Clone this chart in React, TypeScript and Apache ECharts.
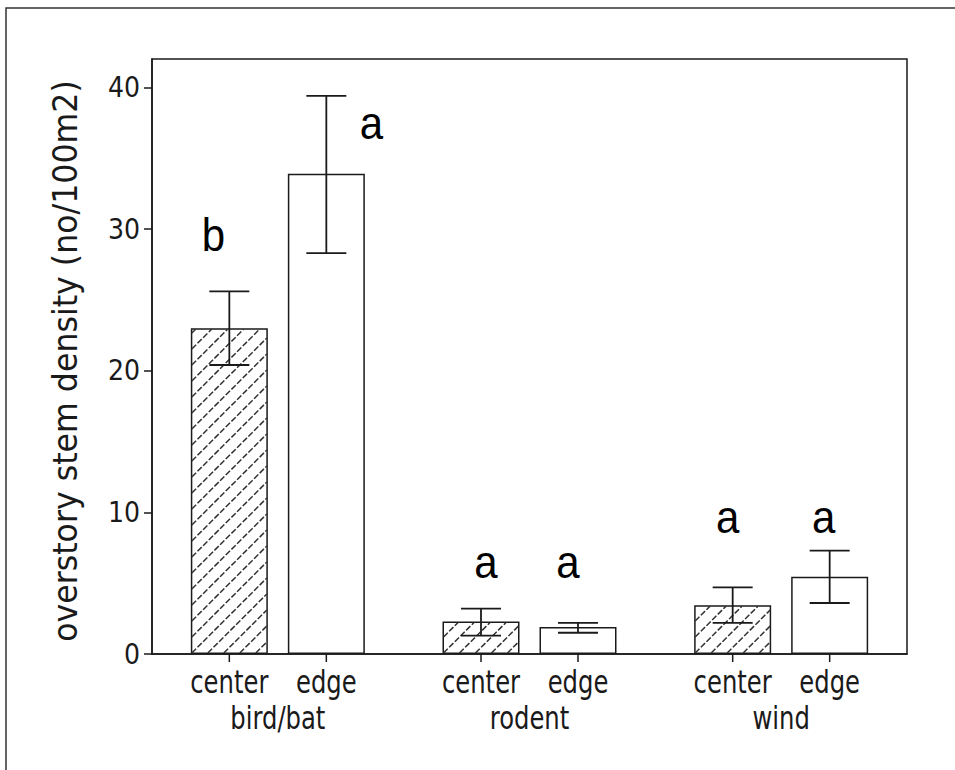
import React, { useEffect, useRef } from "react";
import * as echarts from "echarts";

// ---- data ----
const categories = ["bird/bat", "rodent", "wind"];
const subLabels = ["center", "edge"];
const centerMean = [23.0, 2.3, 3.45];
const edgeMean = [33.9, 1.9, 5.45];
const centerLow = [20.4, 1.3, 2.2];
const centerHigh = [25.6, 3.2, 4.7];
const edgeLow = [28.3, 1.5, 3.6];
const edgeHigh = [39.4, 2.2, 7.3];
const centerLetters = ["b", "a", "a"];
const edgeLetters = ["a", "a", "a"];
const centerLetterY = [29.6, 6.5, 9.7];
const edgeLetterY = [37.5, 6.5, 9.7];
const yTickValues = [0, 10, 20, 30, 40];
const yTitle = "overstory stem density (no/100m2)";

// ---- layout / style (not data) ----
const BAR_W = 77;
const BAR_GAP = 20;
const HALF_STEP = (BAR_W + BAR_GAP) / 2;
const CAP_HALF = 20;
const HATCH_STEP = 16;
const centerLetterDx = [-16, 5, -5];
const edgeLetterDx = [45, -10, -6];
const INK = "#1a1a1a";
const HFONT = "'DejaVu Sans Condensed', 'DejaVu Sans', sans-serif";
const TEXT_STRETCH = 1.18;

export default function App() {
  const ref = useRef<HTMLDivElement>(null);
  useEffect(() => {
    document.body.style.margin = "0";
    if (!ref.current) return;
    const chart = echarts.init(ref.current, undefined, { renderer: "svg" });

    const errData: number[][] = [];
    const letterData: number[][] = [];
    const subData: number[][] = [];
    const hatchData: number[][] = [];
    const groupData: number[][] = [];
    categories.forEach((_, i) => {
      errData.push([i, centerLow[i], centerHigh[i], 0]);
      errData.push([i, edgeLow[i], edgeHigh[i], 1]);
      letterData.push([i, centerLetterY[i], 0]);
      letterData.push([i, edgeLetterY[i], 1]);
      subData.push([i, 0, 0]);
      subData.push([i, 0, 1]);
      hatchData.push([i, centerMean[i]]);
      groupData.push([i, 0]);
    });
    const letterText = (idx: number) => {
      const cat = Math.floor(idx / 2);
      return idx % 2 === 0 ? centerLetters[cat] : edgeLetters[cat];
    };
    const letterDx = (idx: number) => {
      const cat = Math.floor(idx / 2);
      return idx % 2 === 0 ? centerLetterDx[cat] : edgeLetterDx[cat];
    };

    const option: any = {
      animation: false,
      backgroundColor: "#ffffff",
      grid: {
        left: 152,
        right: 48,
        top: 59,
        bottom: 116,
        show: true,
        borderColor: INK,
        borderWidth: 1.5,
        backgroundColor: "transparent",
      },
      xAxis: {
        type: "category",
        data: categories,
        axisTick: { show: false },
        axisLine: { lineStyle: { color: INK, width: 1.5 } },
        axisLabel: { show: false },
        splitLine: { show: false },
      },
      yAxis: {
        type: "value",
        min: 0,
        max: 42,
        interval: 10,
        axisLine: { show: true, lineStyle: { color: INK, width: 1.5 } },
        axisTick: {
          show: true,
          length: 8,
          lineStyle: { color: INK, width: 1.5 },
          customValues: yTickValues,
        },
        axisLabel: {
          color: INK,
          fontSize: 28,
          fontFamily: HFONT,
          margin: 12,
          customValues: yTickValues,
        },
        splitLine: { show: false },
      },
      graphic: [
        {
          type: "rect",
          silent: true,
          z: -1,
          shape: { x: 6, y: 8, width: 1000, height: 800 },
          style: { fill: "none", stroke: "#333", lineWidth: 1.5 },
        },
        {
          type: "text",
          x: 66,
          y: 361,
          rotation: Math.PI / 2,
          scaleX: 0.93,
          style: {
            text: yTitle,
            fill: INK,
            font: "34px 'DejaVu Sans', sans-serif",
            textAlign: "center",
            textVerticalAlign: "middle",
          },
        },
      ],
      series: [
        {
          name: subLabels[0],
          type: "bar",
          data: centerMean,
          barWidth: BAR_W,
          barGap: (BAR_GAP / BAR_W) * 100 + "%",
          itemStyle: { color: "#fff", borderColor: INK, borderWidth: 1.5 },
          z: 2,
        },
        {
          name: subLabels[1],
          type: "bar",
          data: edgeMean,
          barWidth: BAR_W,
          barGap: (BAR_GAP / BAR_W) * 100 + "%",
          itemStyle: { color: "#fff", borderColor: INK, borderWidth: 1.5 },
          z: 2,
        },
        {
          type: "custom",
          z: 3,
          data: hatchData,
          renderItem: (params: any, api: any) => {
            const cat = api.value(0);
            const v = api.value(1);
            const base = api.coord([cat, 0]);
            const top = api.coord([cat, v]);
            const cx = base[0] - HALF_STEP;
            const x0 = cx - BAR_W / 2 + 1;
            const x1 = cx + BAR_W / 2 - 1;
            const y0 = top[1] + 1;
            const y1 = base[1] - 1;
            const children: any[] = [];
            const jMin = Math.ceil((y0 - y1) / HATCH_STEP);
            const jMax = Math.floor((x1 - x0) / HATCH_STEP);
            for (let j = jMin; j <= jMax; j++) {
              const k = x0 + y1 + j * HATCH_STEP;
              const lo = Math.max(x0, k - y1);
              const hi = Math.min(x1, k - y0);
              if (hi - lo > 0.5) {
                children.push({
                  type: "line",
                  shape: { x1: lo, y1: k - lo, x2: hi, y2: k - hi },
                  style: { stroke: "#333", lineWidth: 1.5, lineDash: [6, 2] },
                });
              }
            }
            return { type: "group", children };
          },
        },
        {
          type: "custom",
          z: 4,
          data: errData,
          renderItem: (params: any, api: any) => {
            const cat = api.value(0);
            const s = api.value(3);
            const lo = api.coord([cat, api.value(1)]);
            const hi = api.coord([cat, api.value(2)]);
            const x = lo[0] + (s === 0 ? -HALF_STEP : HALF_STEP);
            const st = { stroke: INK, lineWidth: 1.8 };
            return {
              type: "group",
              children: [
                { type: "line", shape: { x1: x, y1: lo[1], x2: x, y2: hi[1] }, style: st },
                { type: "line", shape: { x1: x - CAP_HALF, y1: hi[1], x2: x + CAP_HALF, y2: hi[1] }, style: st },
                { type: "line", shape: { x1: x - CAP_HALF, y1: lo[1], x2: x + CAP_HALF, y2: lo[1] }, style: st },
              ],
            };
          },
        },
        {
          type: "custom",
          z: 5,
          data: letterData,
          renderItem: (params: any, api: any) => {
            const cat = api.value(0);
            const s = api.value(2);
            const p = api.coord([cat, api.value(1)]);
            const x = p[0] + (s === 0 ? -HALF_STEP : HALF_STEP) + letterDx(params.dataIndex);
            return {
              type: "text",
              x,
              y: p[1],
              scaleY: 1.08,
              style: {
                text: letterText(params.dataIndex),
                fill: "#000",
                font: "42px 'Liberation Sans', Arial, sans-serif",
                textAlign: "center",
                textVerticalAlign: "middle",
              },
            };
          },
        },
        {
          type: "custom",
          z: 5,
          data: subData,
          renderItem: (params: any, api: any) => {
            const cat = api.value(0);
            const s = api.value(2);
            const p = api.coord([cat, 0]);
            const x = p[0] + (s === 0 ? -HALF_STEP : HALF_STEP);
            return {
              type: "group",
              children: [
                {
                  type: "line",
                  shape: { x1: x, y1: p[1], x2: x, y2: p[1] + 8 },
                  style: { stroke: INK, lineWidth: 1.5 },
                },
                {
                  type: "text",
                  x,
                  y: p[1] + 28,
                  scaleY: TEXT_STRETCH,
                  style: {
                    text: subLabels[s],
                    fill: INK,
                    font: "27px " + HFONT,
                    textAlign: "center",
                    textVerticalAlign: "middle",
                  },
                },
              ],
            };
          },
        },
        {
          type: "custom",
          z: 5,
          data: groupData,
          renderItem: (params: any, api: any) => {
            const p = api.coord([api.value(0), 0]);
            return {
              type: "text",
              x: p[0],
              y: p[1] + 64,
              scaleY: TEXT_STRETCH,
              style: {
                text: categories[params.dataIndex],
                fill: INK,
                font: "27px " + HFONT,
                textAlign: "center",
                textVerticalAlign: "middle",
              },
            };
          },
        },
      ],
    };
    chart.setOption(option);
    return () => chart.dispose();
  }, []);
  return <div ref={ref} style={{ width: 955, height: 770 }} />;
}
